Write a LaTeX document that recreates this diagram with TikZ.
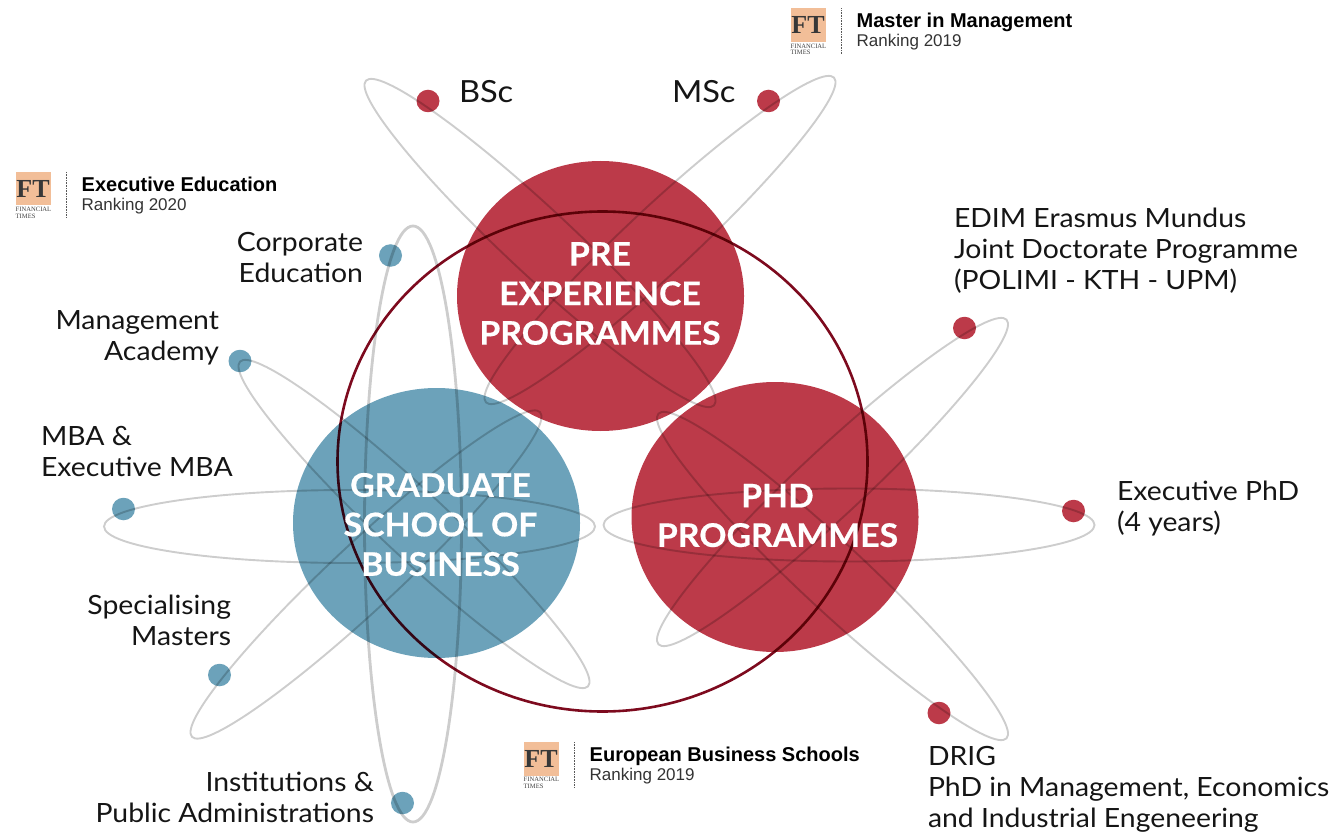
\documentclass[tikz,border=0pt]{standalone}
\usepackage{fontspec}
\setmainfont[FakeStretch=1.07]{Lato}
\newfontfamily\heavyfont[FakeStretch=1.04,BoldFeatures={FakeBold=0.5}]{Lato}
\newfontfamily\ftserif{Liberation Serif}
\newfontfamily\ftsans{Liberation Sans}
\usetikzlibrary{shapes.geometric}
\definecolor{rd}{HTML}{BC3A49}
\definecolor{bl}{HTML}{6CA2BA}
\definecolor{ringc}{HTML}{7D0A1E}
\definecolor{orbitc}{HTML}{CDCDCD}
\definecolor{ftp}{HTML}{F2BE98}
\definecolor{ink}{HTML}{151515}
\tikzset{
  big/.style={ellipse,minimum width=287pt,minimum height=270pt,inner sep=0pt,outer sep=0pt},
  dot/.style={ellipse,minimum width=23pt,minimum height=22.5pt,inner sep=0pt,outer sep=0pt},
  orbit/.style={ellipse,draw=orbitc,line width=1.9pt,inner sep=0pt,outer sep=0pt},
  lbl/.style={inner sep=0pt,outer sep=0pt,text=ink,font=\fontsize{26.5}{31}\selectfont},
  lblb/.style={inner sep=0pt,outer sep=0pt,text=ink,font=\fontsize{30.5}{36}\selectfont},
  wht/.style={inner sep=0pt,outer sep=0pt,text=white,align=center,font=\heavyfont\bfseries\fontsize{32.5}{39.5}\selectfont},
}
\newcommand{\ftlogo}[5]{%
  \node[fill=ftp,minimum width=35pt,minimum height=33.5pt,inner sep=0pt,outer sep=0pt,anchor=north west] (#1sq) at (#2,#3) {};
  \node[text=black!78,inner sep=0pt,font=\ftserif\bfseries\fontsize{26}{26}\selectfont] (#1ft) at (#1sq.center) {FT};
  \node[anchor=north west,inner sep=0pt,align=left,text=black!75,font=\ftserif\fontsize{6.6}{6.8}\selectfont] (#1nm) at ([yshift=-1.5pt]#1sq.south west) {FINANCIAL\\TIMES};
  \coordinate (#1a) at ([xshift=16pt]#1sq.north east);
  \coordinate (#1b) at ([xshift=16pt,yshift=-45pt]#1sq.north east);
  \draw[black!65,line width=1pt,dash pattern=on 1pt off 0.6pt] (#1a) -- (#1b);
  \node[anchor=base west,inner sep=0pt,text=black,font=\ftsans\bfseries\fontsize{20}{22}\selectfont] (#1t) at ([xshift=15pt,yshift=-19.5pt]#1a) {#4};
  \node[anchor=base west,inner sep=0pt,text=black!80,font=\ftsans\fontsize{17}{20}\selectfont] (#1s) at ([xshift=15pt,yshift=-38.5pt]#1a) {#5};
}
\begin{document}
\begin{tikzpicture}[x=1pt,y=-1pt]
\useasboundingbox (0,0) rectangle (1340,834);
% main circles
\node[big,fill=rd] (pre) at (600.5,296) {};
\node[big,fill=bl] (grad) at (436.5,523) {};
\node[big,fill=rd] (phd) at (775,517) {};
% satellites
\node[dot,fill=rd] (bsc) at (428,101) {};
\node[dot,fill=rd] (msc) at (768.5,101) {};
\node[dot,fill=bl] (corp) at (390.5,255.5) {};
\node[dot,fill=bl] (mgmt) at (240,361) {};
\node[dot,fill=bl] (mba) at (123.5,509) {};
\node[dot,fill=bl] (spec) at (219.5,675) {};
\node[dot,fill=bl] (inst) at (402.5,803) {};
\node[dot,fill=rd] (edim) at (964.5,328) {};
\node[dot,fill=rd] (exph) at (1073.5,511) {};
\node[dot,fill=rd] (drig) at (939,713) {};
% orbits and ring, multiplied over the discs
\begin{scope}[blend mode=multiply]
\node[orbit,minimum width=491pt,minimum height=73pt] (ob1) at (349.5,526.5) {};
\node[orbit,line width=2.8pt,minimum width=97pt,minimum height=596pt] (ob2) at (413,524) {};
\node[orbit,minimum width=476pt,minimum height=66pt,rotate=-43] (ob3) at (414,524) {};
\node[orbit,minimum width=476pt,minimum height=66pt,rotate=43] (ob4) at (366,574.5) {};
\node[orbit,minimum width=476pt,minimum height=66pt,rotate=-43] (ob5) at (540,243) {};
\node[orbit,minimum width=476pt,minimum height=66pt,rotate=43] (ob6) at (660,240) {};
\node[orbit,minimum width=491pt,minimum height=73pt] (ob7) at (849,525) {};
\node[orbit,minimum width=476pt,minimum height=66pt,rotate=43] (ob8) at (832.5,482) {};
\node[orbit,minimum width=476pt,minimum height=66pt,rotate=-43] (ob9) at (832.5,576) {};
\node[ellipse,draw=ringc,line width=2.6pt,inner sep=0pt,outer sep=0pt,minimum width=530pt,minimum height=500pt] (ring) at (602.5,461.5) {};
\end{scope}
% captions
\node[wht] (tpre) at (600,293.5) {PRE\\EXPERIENCE\\PROGRAMMES};
\node[wht] (tgrad) at (440.5,524.5) {GRADUATE\\SCHOOL OF\\BUSINESS};
\node[wht] (tphd) at (777.5,515.5) {PHD\\PROGRAMMES};
% labels
\node[lblb,anchor=west] (lbsc) at (459,92) {BSc};
\node[lblb,anchor=west] (lmsc) at (672,92) {MSc};
\node[lbl,anchor=east,align=right] (lcorp) at (363,258) {Corporate\\Education};
\node[lbl,anchor=east,align=right] (lmgmt) at (219,337.5) {Management\\Academy};
\node[lbl,anchor=west,align=left] (lmba) at (41,451.5) {MBA \&\\Executive MBA};
\node[lbl,anchor=east,align=right] (lspec) at (231,620) {Specialising\\Masters};
\node[lbl,anchor=east,align=right] (linst) at (374,797) {Institutions \&\\Public Administrations};
\node[lbl,anchor=west,align=left] (ledim) at (954,250.5) {EDIM Erasmus Mundus\\Joint Doctorate Programme\\(POLIMI - KTH - UPM)};
\node[lbl,anchor=west,align=left] (lexph) at (1117,508.5) {Executive PhD\\(4 years)};
\node[lbl,anchor=west,align=left] (ldrig) at (928,789.5) {DRIG\\PhD in Management, Economics\\and Industrial Engeneering};
% FT badges
\ftlogo{fa}{790.5}{8.5}{Master in Management}{Ranking 2019}
\ftlogo{fb}{15.5}{172}{Executive Education}{Ranking 2020}
\ftlogo{fc}{523.5}{742}{European Business Schools}{Ranking 2019}
\end{tikzpicture}
\end{document}
